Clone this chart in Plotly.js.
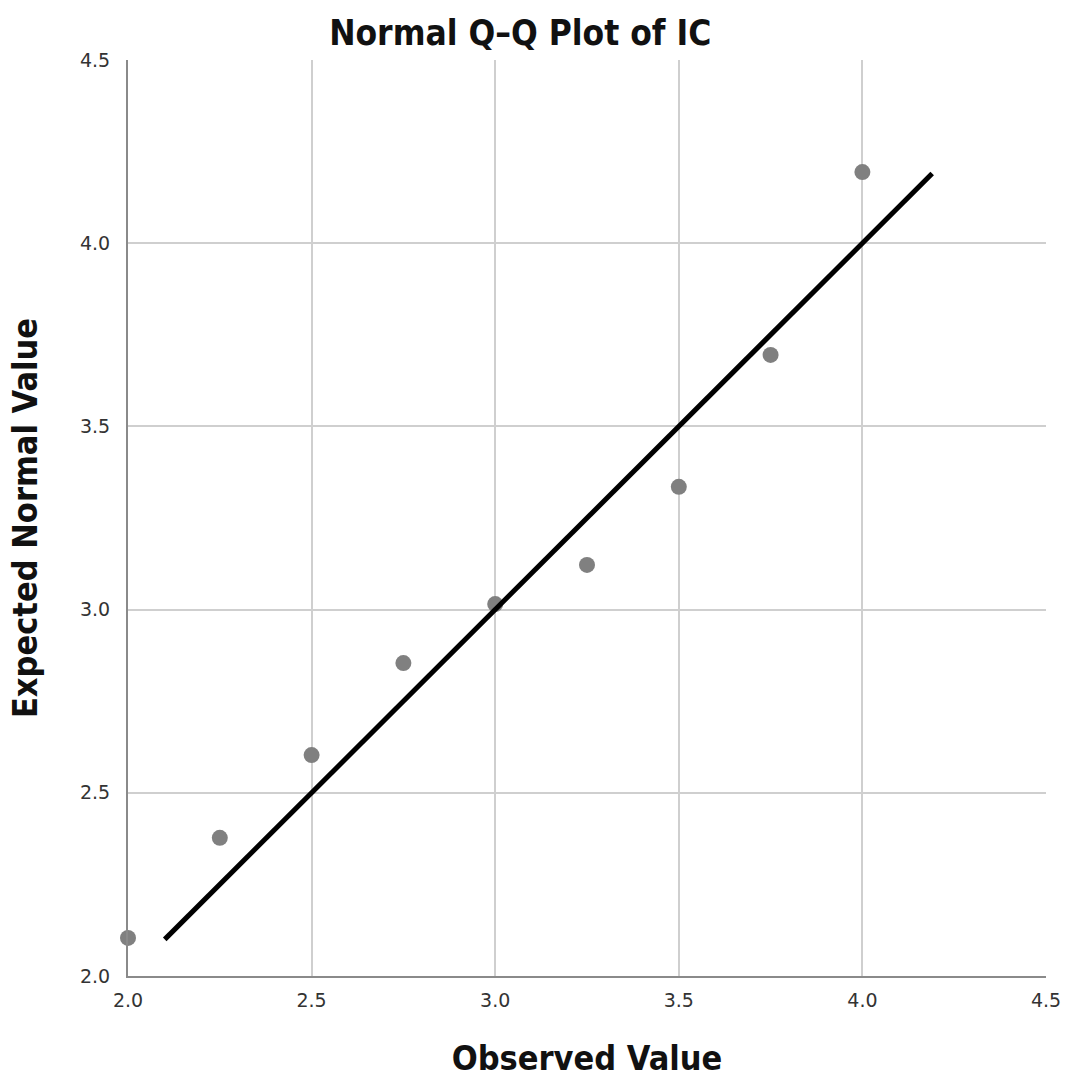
<!DOCTYPE html>
<html>
<head>
<meta charset="utf-8">
<script src="https://cdn.plot.ly/plotly-3.0.1.min.js"></script>
<style>html,body{margin:0;padding:0;background:#fff;}#chart{width:1066px;height:1086px;}</style>
</head>
<body>
<div id="chart"></div>
<script>
var observed = [2.0, 2.25, 2.5, 2.75, 3.0, 3.25, 3.5, 3.75, 4.0];
var expected = [2.104, 2.377, 2.603, 2.854, 3.015, 3.122, 3.335, 3.695, 4.194];
var refLineX = [2.10, 4.19];
var refLineY = [2.10, 4.19];
var tickVals = [2.0, 2.5, 3.0, 3.5, 4.0, 4.5];
var tickText = ["2.0", "2.5", "3.0", "3.5", "4.0", "4.5"];

var traces = [
  {
    x: observed, y: expected, type: 'scatter', mode: 'markers',
    marker: {color: '#808080', size: 16},
    cliponaxis: false, hoverinfo: 'x+y'
  },
  {
    x: refLineX, y: refLineY, type: 'scatter', mode: 'lines',
    line: {color: '#000000', width: 5}, hoverinfo: 'skip'
  }
];

var axisCommon = {
  range: [2.0, 4.5],
  tickvals: tickVals, ticktext: tickText,
  showgrid: true, gridcolor: '#cfcfcf', gridwidth: 2,
  showline: true, linecolor: '#8a8a8a', linewidth: 2,
  zeroline: false, ticks: '',
  tickfont: {family: 'DejaVu Sans, sans-serif', size: 19, color: '#333333'}
};

var titleFont = {family: 'DejaVu Sans Condensed, Open Sans, sans-serif', size: 34, color: '#111111'};

var layout = {
  width: 1066, height: 1086,
  margin: {l: 128, r: 20, t: 60, b: 110},
  paper_bgcolor: '#ffffff', plot_bgcolor: '#ffffff',
  showlegend: false,
  title: {
    text: '<b>Normal Q–Q Plot of IC</b>',
    x: 0.488, xanchor: 'center', y: 0.970, yanchor: 'middle',
    font: {family: 'DejaVu Sans Condensed, Open Sans, sans-serif', size: 35, color: '#111111'}
  },
  xaxis: Object.assign({}, axisCommon, {
    ticklabelstandoff: 6,
    automargin: false,
    title: {text: '<b>Observed Value</b>', standoff: 36, font: titleFont}
  }),
  yaxis: Object.assign({}, axisCommon, {
    ticklabelstandoff: 12,
    automargin: false,
    title: {text: '<b>Expected Normal Value</b>', standoff: 32, font: titleFont}
  })
};

Plotly.newPlot('chart', traces, layout, {displayModeBar: false, staticPlot: true});
</script>
</body>
</html>
